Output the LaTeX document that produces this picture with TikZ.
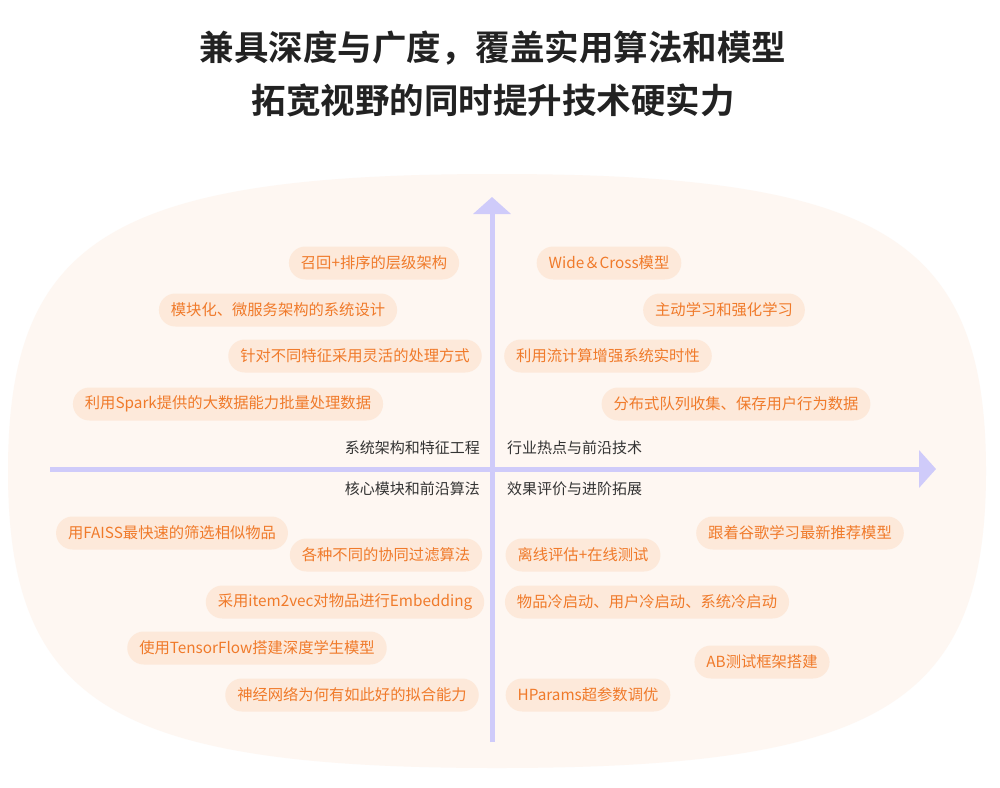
\documentclass[tikz,border=0pt]{standalone}
\usepackage{fontspec}
\setmainfont{Noto Sans CJK SC}[BoldFont={Noto Sans CJK SC Bold}]
\usepackage{tikz}
\usetikzlibrary{arrows.meta}
\usepackage{xcolor}
\definecolor{blobfill}{RGB}{254,247,242}
\definecolor{pillfill}{RGB}{253,233,218}
\definecolor{pilltext}{RGB}{240,122,42}
\definecolor{axisblue}{RGB}{207,203,250}
\definecolor{labelgray}{RGB}{51,51,51}
\definecolor{titleblack}{RGB}{34,34,34}

\begin{document}
\begin{tikzpicture}[x=1pt,y=-1pt,
    pill/.style={fill=pillfill,text=pilltext,rounded corners=16.5pt,minimum height=33pt,
                 inner xsep=12pt,inner ysep=0pt,font=\fontsize{15.3}{18}\selectfont},
    quad/.style={text=labelgray,inner sep=0pt,font=\fontsize{15}{18}\selectfont},
    axis/.style={draw=axisblue,line width=5pt,-{Triangle[length=17pt,width=37pt]}},
    title/.style={text=titleblack,inner sep=0pt,font=\fontsize{34.5}{40}\selectfont\bfseries}]
    \useasboundingbox (0,0) rectangle (1000,787);
    \fill[white] (0,0) rectangle (1000,787);

    % heading
    \node[title] (head1) at (493,48) {兼具深度与广度，覆盖实用算法和模型};
    \node[title] (head2) at (493,100) {拓宽视野的同时提升技术硬实力};

    % background
    \fill[blobfill] (986,471) .. controls (986,704) and (880,768) .. (497,768)
        .. controls (114,768) and (8,704) .. (8,471)
        .. controls (8,238) and (114,174) .. (497,174)
        .. controls (880,174) and (986,238) .. (986,471) -- cycle;

    % axes
    \coordinate (ybot) at (492,742);
    \coordinate (ytop) at (492,197);
    \coordinate (xleft) at (50,469);
    \coordinate (xright) at (936,469);
    \draw[axis] (xleft) -- (xright);
    \draw[axis] (ybot) -- (ytop);

    % quadrant titles
    \node[quad,anchor=east] (qtl) at (480,448) {系统架构和特征工程};
    \node[quad,anchor=west] (qtr) at (507,448) {行业热点与前沿技术};
    \node[quad,anchor=east] (qbl) at (480,489) {核心模块和前沿算法};
    \node[quad,anchor=west] (qbr) at (507,489) {效果评价与进阶拓展};

    % top left
    \node[pill] (recall) at (374,263) {召回+排序的层级架构};
    \node[pill] (micro) at (278,310) {模块化、微服务架构的系统设计};
    \node[pill] (feature) at (355,356) {针对不同特征采用灵活的处理方式};
    \node[pill] (spark) at (228,404) {利用Spark提供的大数据能力批量处理数据};

    % top right
    \node[pill] (widecross) at (609,263) {Wide＆Cross模型};
    \node[pill] (active) at (724,310) {主动学习和强化学习};
    \node[pill] (stream) at (608,356) {利用流计算增强系统实时性};
    \node[pill] (queue) at (736,404) {分布式队列收集、保存用户行为数据};

    % bottom left
    \node[pill] (faiss) at (172,533) {用FAISS最快速的筛选相似物品};
    \node[pill] (cf) at (386,555) {各种不同的协同过滤算法};
    \node[pill] (item2vec) at (345,602) {采用item2vec对物品进行Embedding};
    \node[pill] (tf) at (257,648) {使用TensorFlow搭建深度学生模型};
    \node[pill] (nn) at (352,695) {神经网络为何有如此好的拟合能力};

    % bottom right
    \node[pill] (google) at (800,533) {跟着谷歌学习最新推荐模型};
    \node[pill] (offline) at (583,555) {离线评估+在线测试};
    \node[pill] (cold) at (647,602) {物品冷启动、用户冷启动、系统冷启动};
    \node[pill] (abtest) at (762,662) {AB测试框架搭建};
    \node[pill] (hparams) at (588,695) {HParams超参数调优};
\end{tikzpicture}
\end{document}
